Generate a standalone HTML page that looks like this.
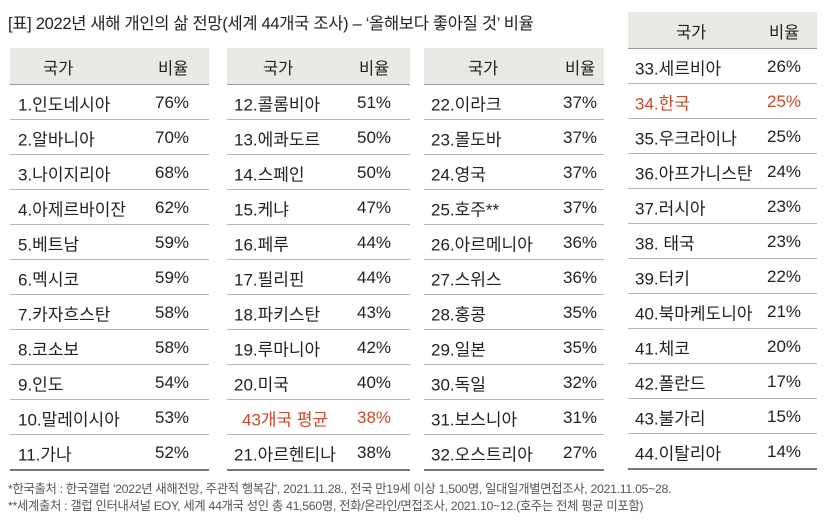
<!DOCTYPE html>
<html><head><meta charset="utf-8"><style>
body{margin:0;width:835px;height:524px;background:#fff;position:relative;font-family:"Liberation Sans","Noto Sans CJK KR",sans-serif;color:#222;overflow:hidden}
.t{position:absolute;font-size:16.5px;left:8px;top:10px;letter-spacing:-0.3px}
.tbl{position:absolute}
.hd{height:36px;background:#ebe9e6;border-bottom:1.5px solid #999;position:relative;font-size:16.5px}
.row{height:34px;border-bottom:1.5px solid #b5b5b5;position:relative;font-size:17px}
.row:last-child{border-bottom:2.5px solid #777}
.n,.v{position:absolute;top:52%;transform:translateY(-50%);white-space:nowrap}
.red{color:#c84a2c}
.f{position:absolute;left:8px;font-size:12.3px;color:#555;letter-spacing:-0.3px}
</style></head><body>
<div class="t">[표] 2022년 새해 개인의 삶 전망(세계 44개국 조사) – ‘올해보다 좋아질 것’ 비율</div>
<div id="c"></div>
<div class="f" style="top:479px">*한국출처 : 한국갤럽 '2022년 새해전망, 주관적 행복감', 2021.11.28., 전국 만19세 이상 1,500명, 일대일개별면접조사, 2021.11.05~28.</div>
<div class="f" style="top:496px">**세계출처 : 갤럽 인터내셔널 EOY, 세계 44개국 성인 총 41,560명, 전화/온라인/면접조사, 2021.10~12.(호주는 전체 평균 미포함)</div>
<script>
const countries1=["1.인도네시아","2.알바니아","3.나이지리아","4.아제르바이잔","5.베트남","6.멕시코","7.카자흐스탄","8.코소보","9.인도","10.말레이시아","11.가나"];
const values1=["76%","70%","68%","62%","59%","59%","58%","58%","54%","53%","52%"];
const countries2=["12.콜롬비아","13.에콰도르","14.스페인","15.케냐","16.페루","17.필리핀","18.파키스탄","19.루마니아","20.미국","43개국 평균","21.아르헨티나"];
const values2=["51%","50%","50%","47%","44%","44%","43%","42%","40%","38%","38%"];
const countries3=["22.이라크","23.몰도바","24.영국","25.호주**","26.아르메니아","27.스위스","28.홍콩","29.일본","30.독일","31.보스니아","32.오스트리아"];
const values3=["37%","37%","37%","37%","36%","36%","35%","35%","32%","31%","27%"];
const countries4=["33.세르비아","34.한국","35.우크라이나","36.아프가니스탄","37.러시아","38. 태국","39.터키","40.북마케도니아","41.체코","42.폴란드","43.불가리","44.이탈리아"];
const values4=["26%","25%","25%","24%","23%","23%","22%","21%","20%","17%","15%","14%"];
const highlight=["34.한국","43개국 평균"];
const specs=[[countries1,values1,10,48,199,8,145,33,148],[countries2,values2,227,48,183,7,130,36,132],[countries3,values3,424,48,180,7,139,44,141],[countries4,values4,628,12,189,7,139,48,141]];
const c=document.getElementById('c');
specs.forEach((s,ti)=>{
 const [cn,vl,x,y,w,nx,vx,hx1,hx2]=s;
 const t=document.createElement('div');t.className='tbl';
 
 
 t.style.left=x+'px';t.style.top=y+'px';t.style.width=w+'px';
 let h='<div class="hd"><span class="n" style="left:'+hx1+'px">국가</span><span class="v" style="left:'+hx2+'px">비율</span></div>';
 cn.forEach((n,i)=>{
  const red=highlight.includes(n)?' red':'';
  const off=n==="43개국 평균"?8:0;
  h+='<div class="row'+red+'"><span class="n" style="left:'+(nx+off)+'px">'+n+'</span><span class="v" style="left:'+vx+'px">'+vl[i]+'</span></div>';
 });
 t.innerHTML=h;c.appendChild(t);
});
</script>
</body></html>
